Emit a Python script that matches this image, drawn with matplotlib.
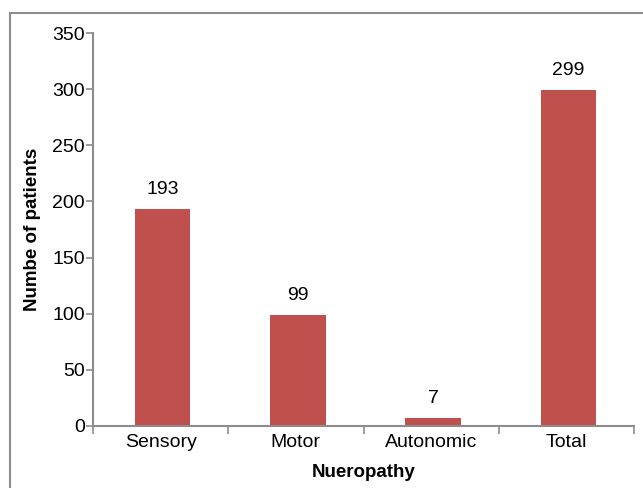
import matplotlib
matplotlib.use("Agg")
import matplotlib.pyplot as plt
from matplotlib.patches import Rectangle
from matplotlib.ticker import FixedLocator

categories = ["Sensory", "Motor", "Autonomic", "Total"]
patients = [193, 99, 7, 299]
y_ticks = [0, 50, 100, 150, 200, 250, 300, 350]

plt.rcParams["font.family"] = ["Liberation Sans", "DejaVu Sans"]
bar_color = "#C0504D"
axis_color = "#8C8C8C"

fig = plt.figure(figsize=(6.43, 4.88), dpi=100)
ax = fig.add_axes([93 / 643, 62 / 488, 541 / 643, 393 / 488])

# outer frame around the chart area
fig.patches.append(Rectangle((10 / 643, -0.05), 1.0, (488 - 13) / 488 + 0.05,
                             transform=fig.transFigure, fill=False,
                             edgecolor=axis_color, linewidth=1.5, zorder=0))

x = list(range(len(categories)))
bars = ax.bar([xi + 0.015 for xi in x], patients, width=0.41, color=bar_color, zorder=2)
for xi, v in zip(x, patients):
    ax.text(xi + 0.015, v + 10, str(v), ha="center", va="bottom", fontsize=14)

ax.set_xlim(-0.5, len(categories) - 0.5)
ax.set_ylim(0, 350)
ax.set_yticks(y_ticks)
ax.set_xticks(x)
ax.set_xticklabels(categories, fontsize=14)
ax.tick_params(axis="x", length=0, pad=6)
ax.xaxis.set_minor_locator(FixedLocator([i - 0.5 for i in range(len(categories) + 1)]))
ax.tick_params(axis="x", which="minor", length=6, width=1.2, color=axis_color, direction="out")
ax.tick_params(axis="y", length=5, width=1.2, color=axis_color, labelsize=14, pad=1)

for side in ("top", "right"):
    ax.spines[side].set_visible(False)
for side in ("left", "bottom"):
    ax.spines[side].set_color(axis_color)
    ax.spines[side].set_linewidth(1.5)

ax.set_xlabel("Nueropathy", fontsize=13.5, fontweight="bold", labelpad=9)
ax.set_ylabel("Numbe of patients", fontsize=13.5, fontweight="bold", labelpad=8)

fig.savefig("out.png", dpi=100)
